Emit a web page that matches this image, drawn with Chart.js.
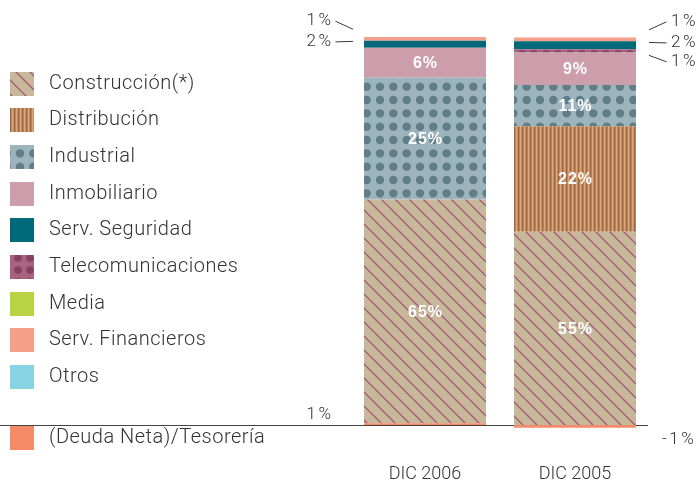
<!DOCTYPE html>
<html><head><meta charset="utf-8">
<script src="https://cdn.jsdelivr.net/npm/chart.js@4"></script>
<style>html,body{margin:0;padding:0;background:#fff;}#wrap{width:697px;height:482px;position:relative}</style>
</head><body><div id="wrap"><canvas id="c" width="697" height="482"></canvas></div>
<script>
// ---------- DATA ----------
const categories = ["DIC 2006", "DIC 2005"];
// drawn heights (share of the column)
const deudaNeta          = [0.45, -0.7];
const construccion       = [57.7, 49.8];
const distribucion       = [0, 27.2];
const industrial         = [31.4, 10.6];
const inmobiliario       = [7.7, 8.4];
const telecomunicaciones = [0, 0.85];
const servSeguridad      = [1.8, 2.05];
const media              = [0, 0];
const servFinancieros    = [1.0, 1.0];
const otros              = [0, 0];
// printed percentage labels
const labelsConstruccion = ["65%", "55%"];
const labelsDistribucion = ["", "22%"];
const labelsIndustrial   = ["25%", "11%"];
const labelsInmobiliario = ["6%", "9%"];
const labelsTelecom      = ["", "1%"];
const labelsSeguridad    = ["2%", "2%"];
const labelsFinancieros  = ["1%", "1%"];
const labelsDeuda        = ["1%", "-1%"];
const legendNames = ["Construcción(*)", "Distribución", "Industrial", "Inmobiliario", "Serv. Seguridad",
                     "Telecomunicaciones", "Media", "Serv. Financieros", "Otros"];
const deudaName = "(Deuda Neta)/Tesorería";

// ---------- STYLES ----------
const canvas = document.getElementById('c');
const ctx = canvas.getContext('2d');
function tile(w, h, draw) {
  const c = document.createElement('canvas'); c.width = w; c.height = h;
  draw(c.getContext('2d'), w, h);
  return ctx.createPattern(c, 'repeat');
}
const patConstruccion = tile(14, 14, (g, w, h) => {
  g.fillStyle = '#c6b898'; g.fillRect(0, 0, w, h);
  g.strokeStyle = '#a65a7a'; g.lineWidth = 1.3;
  for (let k = -1; k <= 1; k++) { g.beginPath(); g.moveTo(-2, -2 + 14 * k); g.lineTo(16, 16 + 14 * k); g.stroke(); }
});
const patDistribucion = tile(4, 4, (g) => {
  const cols = ['#d9a777', '#c8915f', '#9c6644', '#bb855a'];
  cols.forEach((c, i) => { g.fillStyle = c; g.fillRect(i, 0, 1, 4); });
});
const patIndustrial = tile(40, 40, (g, w, h) => {
  g.fillStyle = '#9db4bd'; g.fillRect(0, 0, w, h);
  g.fillStyle = '#5f7e88';
  for (let i = 0; i < 3; i++) for (let j = 0; j < 3; j++) {
    g.beginPath(); g.arc(6.67 + 13.33 * i, 6.67 + 13.33 * j, 4.2, 0, Math.PI * 2); g.fill();
  }
});
const patTelecom = tile(12, 12, (g, w, h) => {
  g.fillStyle = '#a6627f'; g.fillRect(0, 0, w, h);
  g.fillStyle = '#83405f';
  g.beginPath(); g.arc(6, 6, 3.8, 0, Math.PI * 2); g.fill();
});
const colDeuda = '#f58a66', colInmob = '#cc9dab', colSeg = '#006a7a', colMedia = '#b9d442',
      colFin = '#f5a089', colOtros = '#88d4e2';

const datasets = [
  { label: deudaName, data: deudaNeta, backgroundColor: colDeuda },
  { label: legendNames[0], data: construccion, backgroundColor: patConstruccion },
  { label: legendNames[1], data: distribucion, backgroundColor: patDistribucion },
  { label: legendNames[2], data: industrial, backgroundColor: patIndustrial },
  { label: legendNames[3], data: inmobiliario, backgroundColor: colInmob },
  { label: legendNames[5], data: telecomunicaciones, backgroundColor: patTelecom },
  { label: legendNames[4], data: servSeguridad, backgroundColor: colSeg },
  { label: legendNames[6], data: media, backgroundColor: colMedia },
  { label: legendNames[7], data: servFinancieros, backgroundColor: colFin },
  { label: legendNames[8], data: otros, backgroundColor: colOtros },
];
const swatches = [patConstruccion, patDistribucion, patIndustrial, colInmob, colSeg, patTelecom, colMedia, colFin, colOtros];

const LIGHT = '300 20px Roboto';
const SMALL = '300 17px Roboto';
const TXT = '#333333';

const baselinePlugin = {
  id: 'baseline',
  beforeDatasetsDraw(chart) {
    const c = chart.ctx, y0 = Math.round(chart.scales.y.getPixelForValue(0));
    c.save(); c.strokeStyle = '#454545'; c.lineWidth = 1;
    c.beginPath(); c.moveTo(0, y0 + 0.5); c.lineTo(648, y0 + 0.5); c.stroke(); c.restore();
  }
};

function segCenter(chart, dsIndex, j) {
  const el = chart.getDatasetMeta(dsIndex).data[j];
  return { x: el.x, y: (el.y + el.base) / 2, left: el.x - el.width / 2, right: el.x + el.width / 2 };
}

const labelPlugin = {
  id: 'labels',
  afterDatasetsDraw(chart) {
    const c = chart.ctx;
    c.save();
    // inside labels
    c.fillStyle = '#ffffff'; c.font = 'bold 16px "Liberation Sans", Arial, sans-serif';
    c.textAlign = 'center'; c.textBaseline = 'middle';
    try { c.letterSpacing = '1px'; } catch (e) {}
    [[1, labelsConstruccion], [2, labelsDistribucion], [3, labelsIndustrial], [4, labelsInmobiliario]].forEach(([ds, labs]) => {
      labs.forEach((t, j) => { if (!t) return; const p = segCenter(chart, ds, j); c.fillText(t, p.x + 0.5, p.y + 1); });
    });
    // callouts
    c.fillStyle = TXT; c.strokeStyle = '#3a3a3a'; c.lineWidth = 1; c.font = SMALL;
    try { c.letterSpacing = '2.5px'; } catch (e) {}
    const callouts = [
      { ds: 8, labs: labelsFinancieros, dyL: -18, dyB: -9.5, leader: true },
      { ds: 6, labs: labelsSeguridad, dyL: -2.8, dyB: -2.8, leader: true },
      { ds: 5, labs: labelsTelecom, dyL: 10.4, dyB: 4.5, leader: true },
      { ds: 0, labs: labelsDeuda, dyL: null, leader: false },
    ];
    callouts.forEach(co => {
      co.labs.forEach((t, j) => {
        if (!t) return;
        const p = segCenter(chart, co.ds, j);
        const leftSide = j === 0;
        let ly;
        if (co.leader) {
          ly = p.y + co.dyL;
          c.beginPath();
          if (leftSide) { c.moveTo(p.left - 28.5, ly + 0.5); c.lineTo(p.left - 11, p.y + co.dyB); }
          else { c.moveTo(p.right + 13, p.y + co.dyB); c.lineTo(p.right + 30.5, ly + 0.5); }
          c.stroke();
        } else {
          ly = leftSide ? p.y - 9 : p.y + 13.6;
        }
        const w = c.measureText(t).width - 2.5;
        c.textAlign = 'left';
        let x;
        if (co.leader) x = leftSide ? p.left - 33 - w : p.right + 35;
        else x = leftSide ? p.left - 33 - w : p.right + 26;
        c.fillText(t, x, ly);
      });
    });
    c.restore();
  }
};

const legendPlugin = {
  id: 'customLegend',
  afterDraw(chart) {
    const c = chart.ctx;
    c.save();
    c.font = LIGHT; c.fillStyle = TXT; c.textAlign = 'left'; c.textBaseline = 'middle';
    try { c.letterSpacing = '0.5px'; } catch (e) {}
    const y0 = 83.5, step = 36.7;
    legendNames.forEach((name, i) => {
      const cy = y0 + step * i;
      c.fillStyle = swatches[i]; c.fillRect(10, Math.round(cy - 12), 24, 24);
      c.fillStyle = TXT; c.fillText(name, 49, cy);
    });
    const dy = 438.3;
    c.fillStyle = colDeuda; c.fillRect(10, Math.round(dy - 12), 24, 24);
    c.fillStyle = TXT; c.fillText(deudaName, 49, dy);
    c.restore();
  }
};

new Chart(ctx, {
  type: 'bar',
  data: { labels: categories, datasets },
  options: {
    responsive: false, animation: false,
    layout: { padding: { left: 350, right: 47, top: 37, bottom: 0 } },
    plugins: { legend: { display: false }, tooltip: { enabled: false } },
    datasets: { bar: { categoryPercentage: 1, barPercentage: 122 / 150, borderWidth: 0 } },
    scales: {
      x: {
        stacked: true,
        grid: { display: false, drawTicks: false },
        border: { display: false },
        ticks: { color: TXT, font: { family: 'Roboto', size: 18, weight: '300' }, padding: 19 },
        afterFit(s) { s.height = 37.6; }
      },
      y: { stacked: true, display: false, min: -5, max: 100 }
    }
  },
  plugins: [baselinePlugin, labelPlugin, legendPlugin]
});
</script>
</body></html>
